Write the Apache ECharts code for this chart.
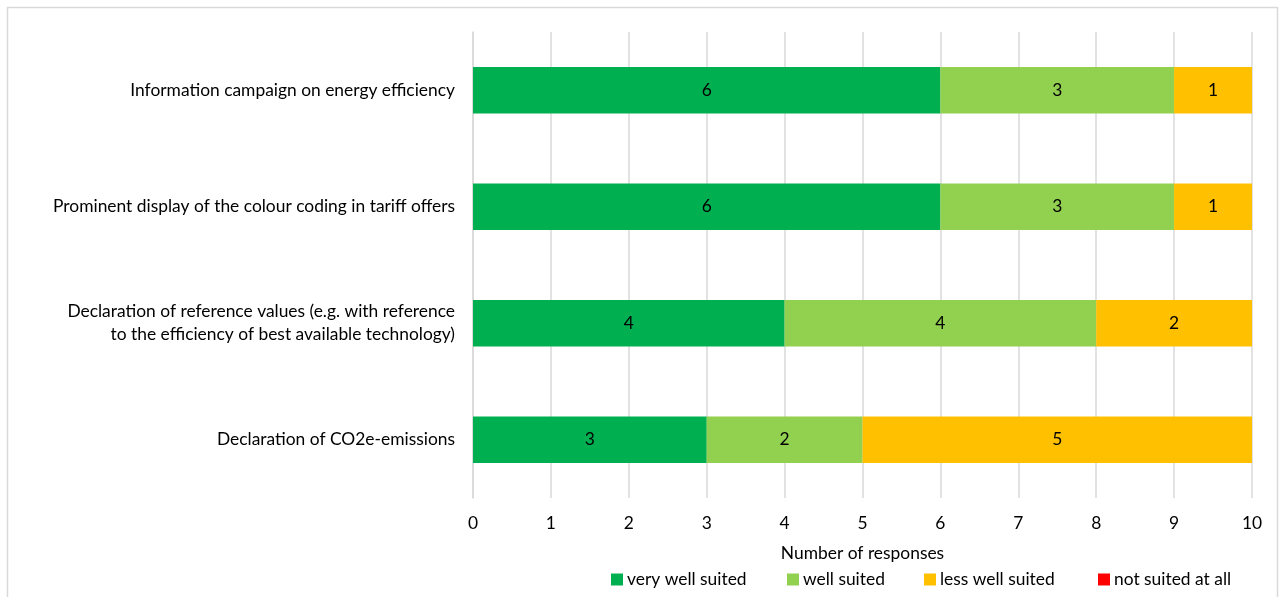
<!DOCTYPE html>
<html><head><meta charset="utf-8">
<script src="https://cdn.jsdelivr.net/npm/echarts@6/dist/echarts.min.js"></script>
<style>html,body{margin:0;padding:0;background:#fff}#c{width:1281px;height:597px}</style>
</head><body><div id="c"></div>
<script>
const categories = [
  "Information campaign on energy efficiency",
  "Prominent display of the colour coding in tariff offers",
  "Declaration of reference values (e.g. with reference\nto the efficiency of best available technology)",
  "Declaration of CO2e-emissions"
];
const veryWell = [6, 6, 4, 3];
const well = [3, 3, 4, 2];
const lessWell = [1, 1, 2, 5];
const notSuited = [0, 0, 0, 0];
const seriesNames = ["very well suited", "well suited", "less well suited", "not suited at all"];
const colors = ["#00b050", "#92d050", "#ffc000", "#ff0000"];
const FONT = "Lato";
const FS = 17.4;

const chart = echarts.init(document.getElementById('c'));
const mk = (name, data, color) => ({
  name, type: 'bar', stack: 'total', data, barWidth: '40%',
  itemStyle: { color },
  label: { show: true, position: 'inside', color: '#000', fontFamily: FONT, fontSize: FS,
    formatter: p => p.value > 0 ? p.value : '' }
});
const legendLefts = [606, 782, 919, 1093];
chart.setOption({
  animation: false,
  textStyle: { fontFamily: FONT },
  graphic: [{ type: 'rect', shape: { x: 7.5, y: 7.5, width: 1270, height: 620 },
    style: { fill: 'none', stroke: '#d9d9d9', lineWidth: 1.5 }, silent: true }],
  grid: { left: 473, right: 29, top: 32, bottom: 99, containLabel: false },
  legend: seriesNames.map((n, i) => ({
    data: [n], top: 566, left: legendLefts[i], itemWidth: 12, itemHeight: 12, itemGap: 0,
    icon: 'rect', textStyle: { fontFamily: FONT, fontSize: FS, color: '#000', padding: [0, 0, 0, -1] }
  })),
  xAxis: {
    type: 'value', min: 0, max: 10, interval: 1,
    name: 'Number of responses', nameLocation: 'middle', nameGap: 47,
    nameTextStyle: { fontFamily: FONT, fontSize: FS, color: '#000' },
    axisLine: { show: false }, axisTick: { show: false },
    axisLabel: { fontFamily: FONT, fontSize: FS, color: '#000', margin: 17 },
    splitLine: { lineStyle: { color: '#d9d9d9', width: 1.5 } }
  },
  yAxis: {
    type: 'category', data: categories, inverse: true,
    axisLine: { show: true, lineStyle: { color: '#d9d9d9', width: 1.5 } },
    axisTick: { show: false },
    axisLabel: { fontFamily: FONT, fontSize: FS, color: '#000', margin: 18, lineHeight: 23, align: 'right' }
  },
  series: [
    mk(seriesNames[0], veryWell, colors[0]),
    mk(seriesNames[1], well, colors[1]),
    mk(seriesNames[2], lessWell, colors[2]),
    mk(seriesNames[3], notSuited, colors[3])
  ]
});
</script></body></html>
